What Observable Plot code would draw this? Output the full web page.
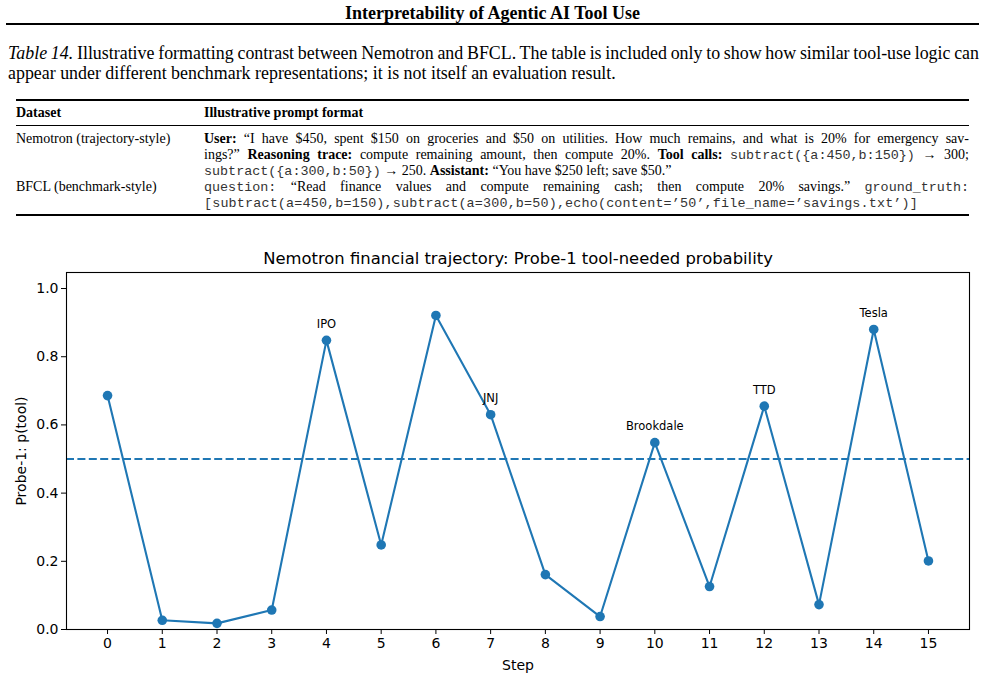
<!DOCTYPE html>
<html>
<head>
<meta charset="utf-8">
<script src="https://cdn.jsdelivr.net/npm/d3@7"></script>
<script src="https://cdn.jsdelivr.net/npm/@observablehq/plot@0.6"></script>
<style>
  html, body { margin: 0; padding: 0; background: white; }
  #page { position: relative; width: 985px; height: 679px; overflow: hidden; background: white; }
  .serif { font-family: "Liberation Serif", "Times New Roman", serif; color: #000; }
  .mono { font-family: "Liberation Mono", "Courier New", monospace; font-size: 13.4px; color: #333; }
  .abs { position: absolute; white-space: nowrap; }
  .rule { position: absolute; background: #000; }
  .tline { font-size: 14px; line-height: 16px; height: 16px; }
  .cap { font-size: 17.9px; line-height: 20px; height: 20px; }
</style>
</head>
<body>
<div id="page">
  <div class="abs serif" style="left:0;width:985px;top:3px;text-align:center;font-weight:bold;font-size:18px;line-height:20px;">Interpretability of Agentic AI Tool Use</div>
  <div class="rule" style="left:6px;width:973px;top:23px;height:2px;"></div>

  <div class="abs serif cap" id="cap1" style="left:8px;top:43px;"><i>Table 14.</i> Illustrative formatting contrast between Nemotron and BFCL. The table is included only to show how similar tool-use logic can</div>
  <div class="abs serif cap" style="left:8px;top:63px;">appear under different benchmark representations; it is not itself an evaluation result.</div>

  <div class="rule" style="left:16px;width:953px;top:99px;height:1.5px;"></div>
  <div class="abs serif tline" style="left:16px;top:105px;font-weight:bold;">Dataset</div>
  <div class="abs serif tline" style="left:204px;top:105px;font-weight:bold;">Illustrative prompt format</div>
  <div class="rule" style="left:16px;width:953px;top:125px;height:1px;"></div>

  <div class="abs serif tline" style="left:16px;top:131px;">Nemotron (trajectory-style)</div>
  <div class="abs serif tline just" style="left:204px;top:131px;"><b>User:</b> “I have $450, spent $150 on groceries and $50 on utilities. How much remains, and what is 20% for emergency sav-</div>
  <div class="abs serif tline just" style="left:204px;top:147px;">ings?” <b>Reasoning trace:</b> compute remaining amount, then compute 20%. <b>Tool calls:</b> <span class="mono">subtract({a:450,b:150})</span> → 300;</div>
  <div class="abs serif tline" style="left:204px;top:163px;"><span class="mono">subtract({a:300,b:50})</span> → 250. <b>Assistant:</b> “You have $250 left; save $50.”</div>
  <div class="abs serif tline" style="left:16px;top:179px;">BFCL (benchmark-style)</div>
  <div class="abs serif tline just" style="left:204px;top:179px;"><span class="mono">question:</span> “Read finance values and compute remaining cash; then compute 20% savings.” <span class="mono">ground_truth:</span></div>
  <div class="abs serif tline" id="bfcl2" style="left:204px;top:195px;"><span class="mono">[subtract(a=450,b=150),subtract(a=300,b=50),echo(content=’50’,file_name=’savings.txt’)]</span></div>
  <div class="rule" style="left:16px;width:953px;top:214px;height:1.5px;"></div>

  <div id="chart" style="position:absolute;left:0;top:240px;"></div>
</div>
<script>
// ---- data ----
const steps = [0, 1, 2, 3, 4, 5, 6, 7, 8, 9, 10, 11, 12, 13, 14, 15];
const probs = [0.686, 0.027, 0.018, 0.057, 0.848, 0.248, 0.921, 0.630, 0.161, 0.038, 0.548, 0.126, 0.655, 0.073, 0.880, 0.201];
const annotSteps = [4, 7, 10, 12, 14];
const annotNames = ["IPO", "JNJ", "Brookdale", "TTD", "Tesla"];
const yTicks = [0, 0.2, 0.4, 0.6, 0.8, 1.0];
const threshold = [0.5];
const chartTitle = "Nemotron financial trajectory: Probe-1 tool-needed probability";

const blue = "#1f77b4";
const data = steps.map((s, i) => ({step: s, p: probs[i]}));
const annots = annotSteps.map((s, i) => ({step: s, p: probs[steps.indexOf(s)], name: annotNames[i]}));

// ---- justify table lines ----
function justifyTo(el, right) {
  const r = el.getBoundingClientRect();
  const target = right - r.left;
  const n = (el.textContent.match(/ /g) || []).length;
  if (n > 0) el.style.wordSpacing = ((target - r.width) / n) + "px";
}
document.querySelectorAll(".just").forEach(el => justifyTo(el, 969));
justifyTo(document.getElementById("cap1"), 979);
(function () {
  const el = document.getElementById("bfcl2");
  const r = el.getBoundingClientRect();
  const n = el.textContent.length;
  el.querySelector(".mono").style.letterSpacing = ((918 - r.right) / n) + "px";
})();

// ---- chart ----
const chart = Plot.plot({
  width: 985,
  height: 439,
  marginLeft: 66,
  marginRight: 16,
  marginTop: 32,
  marginBottom: 50,
  style: {fontFamily: "DejaVu Sans", fontSize: "14px", color: "black", background: "white", overflow: "visible"},
  x: {domain: [-0.75, 15.75]},
  y: {domain: [0, 1.047]},
  marks: [
    Plot.ruleY(threshold, {stroke: blue, strokeWidth: 2.1, strokeDasharray: "8,3.4"}),
    Plot.line(data, {x: "step", y: "p", stroke: blue, strokeWidth: 2.1}),
    Plot.dot(data, {x: "step", y: "p", r: 4.8, fill: blue, stroke: "none"}),
    Plot.text(annots, {x: "step", y: "p", text: "name", dy: -16, fontSize: 11.5, fill: "black"}),
    Plot.frame({stroke: "black", strokeWidth: 1.1}),
    Plot.axisX({ticks: steps, tickSize: 5, tickPadding: 4, tickFormat: d => String(d), label: "Step", labelAnchor: "center", labelArrow: "none", labelOffset: 40}),
    Plot.axisY({ticks: yTicks, tickSize: 5, tickPadding: 3, tickFormat: d3.format(".1f"), label: "Probe-1: p(tool)", labelAnchor: "center", labelArrow: "none", labelOffset: 50}),
    Plot.text([chartTitle], {frameAnchor: "top", lineAnchor: "middle", dy: -14, fontSize: 16.4, fill: "black"})
  ]
});
document.getElementById("chart").appendChild(chart);
</script>
</body>
</html>
